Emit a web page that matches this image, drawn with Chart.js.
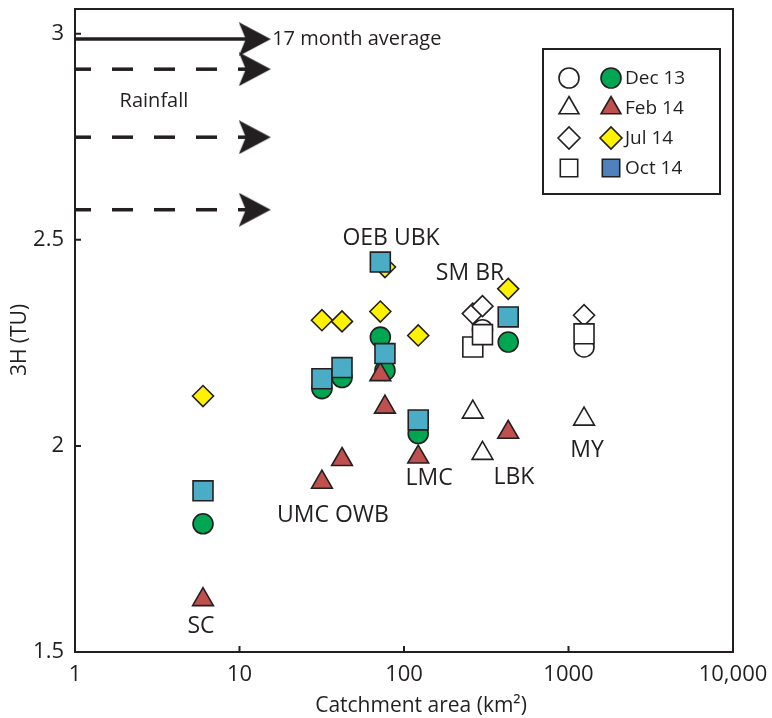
<!DOCTYPE html>
<html>
<head>
<meta charset="utf-8">
<script src="https://cdn.jsdelivr.net/npm/chart.js@4.4.1/dist/chart.umd.min.js"></script>
<style>
  html, body { margin: 0; padding: 0; background: #fff; }
  #wrap { width: 772px; height: 718px; }
</style>
</head>
<body>
<div id="wrap"><canvas id="chart" width="772" height="718"></canvas></div>
<script>
// Tritium (3H) in stream water vs catchment area

const sites = ['SC', 'UMC', 'OWB', 'OEB', 'UBK', 'LMC', 'SM', 'BR', 'LBK', 'MY'];
const catchmentArea = [6, 31.7, 42, 71.8, 76.6, 122, 262, 300, 430, 1243];
// sites drawn with open symbols
const openSymbol = [false, false, false, false, false, false, true, true, false, true];

const dec13 = [1.811, 2.139, 2.166, 2.264, 2.183, 2.030, null, 2.282, 2.252, 2.240];
const feb14 = [1.627, 1.912, 1.967, 2.173, 2.094, 1.973, 2.082, 1.982, 2.033, 2.065];
const jul14 = [2.121, 2.305, 2.302, 2.326, 2.434, 2.268, 2.321, 2.339, 2.381, 2.317];
const oct14 = [1.891, 2.163, 2.190, 2.446, 2.224, 2.063, 2.240, 2.270, 2.313, 2.272];

// rainfall tritium (arrows on the left)
const rainfall = [2.914, 2.749, 2.573];
const rainfallAverage = 2.987;
const arrowEnd = 12.37;

const xTicks = [1, 10, 100, 1000, 10000];
const xTickLabels = ['1', '10', '100', '1000', '10,000'];
const yTicks = [1.5, 2, 2.5, 3];

const INK = '#231f20';
const FONT = '"Open Sans", sans-serif';

// labels placed next to the site groups
const siteLabels = [
  { text: 'OEB UBK', x: 83.4, y: 2.503 },
  { text: 'SM BR', x: 252, y: 2.418 },
  { text: 'LMC', x: 142, y: 1.922 },
  { text: 'LBK', x: 466, y: 1.924 },
  { text: 'MY', x: 1295, y: 1.990 },
  { text: 'UMC OWB', x: 37, y: 1.832 },
  { text: 'SC', x: 5.83, y: 1.563 }
];

function makeArrowHead() {
  const c = document.createElement('canvas');
  c.width = 32;
  c.height = 34;
  const g = c.getContext('2d');
  g.fillStyle = INK;
  g.beginPath();
  g.moveTo(32, 17);
  g.lineTo(0, 0);
  g.lineTo(7, 17);
  g.lineTo(0, 34);
  g.closePath();
  g.fill();
  return c;
}
const arrowHead = makeArrowHead();

function seriesData(values) {
  return values.map((v, i) => ({ x: catchmentArea[i], y: v }));
}

function markerSet(label, values, color, style, radius, order) {
  return {
    label: label,
    data: seriesData(values),
    pointStyle: style,
    pointRadius: radius,
    pointBackgroundColor: values.map((v, i) => openSymbol[i] ? '#ffffff' : color),
    pointBorderColor: INK,
    pointBorderWidth: 1.6,
    order: order
  };
}

function arrowSet(value, dashed) {
  return {
    label: dashed ? 'Rainfall' : '17 month average',
    data: [{ x: 1, y: value }, { x: arrowEnd, y: value }],
    showLine: true,
    borderColor: INK,
    borderWidth: 3.5,
    borderDash: dashed ? [21, 21] : [],
    borderDashOffset: 5,
    pointStyle: arrowHead,
    pointRadius: [0, 16],
    order: 10
  };
}

const datasets = [
  markerSet('Dec 13', dec13, '#00a651', 'circle', 10, 4),
  markerSet('Feb 14', feb14, '#c0504d', 'triangle', 12, 3),
  markerSet('Jul 14', jul14, '#fff200', 'rectRot', 10.5, 2),
  markerSet('Oct 14', oct14, '#4bacc6', 'rect', 14.1, 1),
  arrowSet(rainfallAverage, false)
].concat(rainfall.map(v => arrowSet(v, true)));

// legend entries: open and filled symbol per sampling date
const legendItems = [
  { text: 'Dec 13', style: 'circle', r: 10, color: '#00a651' },
  { text: 'Feb 14', style: 'triangle', r: 11.5, color: '#c0504d' },
  { text: 'Jul 14', style: 'rectRot', r: 11, color: '#fff200' },
  { text: 'Oct 14', style: 'rect', r: 12.3, color: '#4f81bd' }
];

const decorPlugin = {
  id: 'decor',
  afterDraw(chart) {
    const ctx = chart.ctx;
    const xs = chart.scales.x;
    const ys = chart.scales.y;
    const left = xs.getPixelForValue(xs.min);
    const right = xs.getPixelForValue(xs.max);
    const top = ys.getPixelForValue(ys.max);
    const bottom = ys.getPixelForValue(ys.min);
    ctx.save();

    // frame and inward ticks
    ctx.strokeStyle = INK;
    ctx.lineWidth = 2;
    ctx.strokeRect(left, top, right - left, bottom - top);
    ctx.beginPath();
    yTicks.forEach(v => {
      const py = ys.getPixelForValue(v);
      ctx.moveTo(left, py);
      ctx.lineTo(left + 6, py);
    });
    xTicks.slice(1, -1).forEach(v => {
      const px = xs.getPixelForValue(v);
      ctx.moveTo(px, bottom);
      ctx.lineTo(px, bottom - 6);
    });
    ctx.stroke();

    // annotations
    ctx.fillStyle = INK;
    ctx.textBaseline = 'middle';
    ctx.font = '23px ' + FONT;
    ctx.textAlign = 'center';
    siteLabels.forEach(l => {
      ctx.fillText(l.text, xs.getPixelForValue(l.x), ys.getPixelForValue(l.y));
    });
    ctx.font = '20px ' + FONT;
    ctx.fillText('Rainfall', xs.getPixelForValue(3.02), ys.getPixelForValue(2.835));
    ctx.textAlign = 'left';
    ctx.fillText('17 month average', xs.getPixelForValue(15.8), ys.getPixelForValue(rainfallAverage));

    // axis titles
    ctx.font = '21px ' + FONT;
    ctx.textAlign = 'center';
    ctx.fillText('Catchment area (km\u00b2)', 421, 706);
    ctx.save();
    ctx.translate(20, 340);
    ctx.rotate(-Math.PI / 2);
    ctx.fillText('3H (TU)', 0, 0);
    ctx.restore();

    // legend box
    ctx.lineWidth = 2;
    ctx.strokeRect(543, 49, 177, 145);
    ctx.font = '19px ' + FONT;
    ctx.textAlign = 'left';
    legendItems.forEach((item, i) => {
      const y = 78 + i * 30;
      [['#ffffff', 569], [item.color, 611]].forEach(([fill, x]) => {
        ctx.fillStyle = fill;
        ctx.strokeStyle = INK;
        ctx.lineWidth = 1.6;
        Chart.helpers.drawPoint(ctx, { pointStyle: item.style, radius: item.r, borderWidth: 1.6, rotation: 0 }, x, y);
      });
      ctx.fillStyle = INK;
      ctx.fillText(item.text, 625, y + 1);
    });
    ctx.restore();
  }
};

Chart.defaults.font.family = FONT;
Chart.defaults.color = INK;

new Chart(document.getElementById('chart'), {
  type: 'scatter',
  data: { datasets: datasets },
  options: {
    responsive: false,
    animation: false,
    events: [],
    layout: { autoPadding: false, padding: { top: 9, right: 39, left: 0, bottom: 0 } },
    plugins: { legend: { display: false }, tooltip: { enabled: false } },
    scales: {
      x: {
        type: 'logarithmic',
        min: 1,
        max: 10000,
        grid: { display: false, drawTicks: false },
        border: { display: false },
        afterBuildTicks: s => { s.ticks = xTicks.map(v => ({ value: v })); },
        afterFit: s => { s.height = 66; s.paddingLeft = 0; s.paddingRight = 0; },
        ticks: {
          padding: 10,
          font: { size: 22 },
          maxRotation: 0,
          autoSkip: false,
          callback: (v) => xTickLabels[xTicks.indexOf(v)]
        }
      },
      y: {
        min: 1.5,
        max: 3.06,
        grid: { display: false, drawTicks: false },
        border: { display: false },
        afterBuildTicks: s => { s.ticks = yTicks.map(v => ({ value: v })); },
        afterFit: s => { s.width = 75; s.paddingTop = 0; s.paddingBottom = 0; },
        ticks: {
          padding: 11,
          font: { size: 22 },
          callback: (v) => String(v)
        }
      }
    }
  },
  plugins: [decorPlugin]
});
</script>
</body>
</html>
